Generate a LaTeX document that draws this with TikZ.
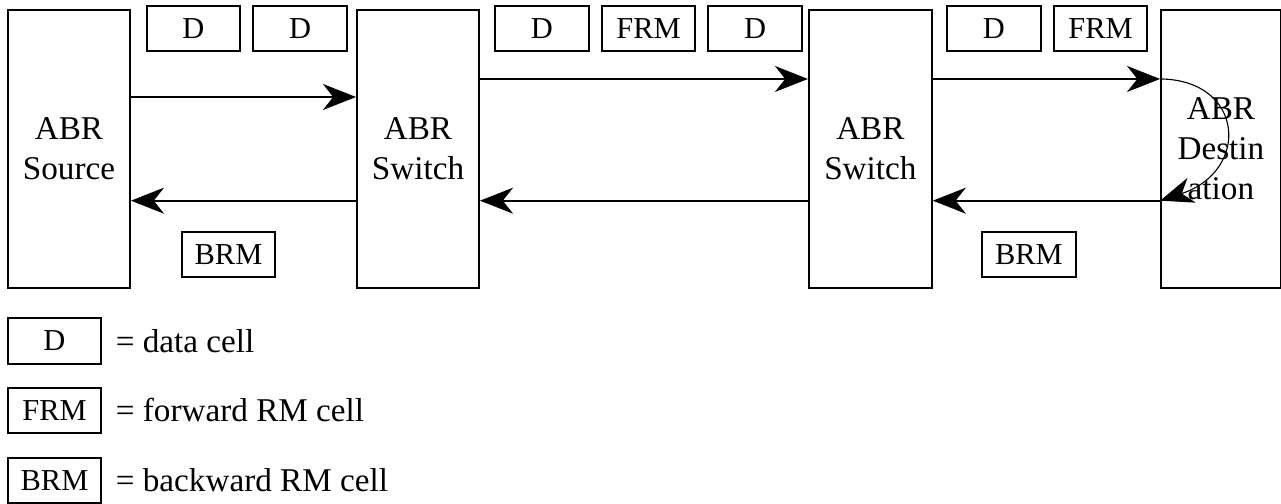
\documentclass[tikz,border=0pt]{standalone}
\usepackage{fontspec}
\setmainfont{Liberation Serif}
\usetikzlibrary{arrows.meta,positioning}
\tikzset{
  unit/.style={draw,line width=0.7pt,minimum width=1.55cm,minimum height=3.53cm,align=center,inner sep=0pt,font=\fontsize{12}{14.4}\selectfont},
  cell/.style={draw,line width=0.7pt,minimum width=1.19cm,minimum height=0.58cm,inner sep=0pt,font=\fontsize{11}{13}\selectfont},
  key/.style={inner sep=0pt,font=\fontsize{12}{14.4}\selectfont},
  flow/.style={line width=0.7pt,-{Stealth[length=4.2mm,width=3.3mm,inset=1.3mm]}},
}
\begin{document}
\begin{tikzpicture}
  \useasboundingbox (0,0) rectangle (16.27,-6.39);
  % stations
  \node[unit] (src) at (0.876,-1.892) {ABR\\Source};
  \node[unit] (sw1) at (5.309,-1.892) {ABR\\Switch};
  \node[unit,minimum width=1.56cm] (sw2) at (11.055,-1.892) {ABR\\Switch};
  \node[unit,minimum width=1.52cm] (dst) at (15.507,-1.892) {ABR\\Destin\\ation};
  % link levels
  \coordinate (hi1) at (0,-1.232);
  \coordinate (hi) at (0,-1.003);
  \coordinate (lo) at (0,-2.549);
  \draw[flow] (src.east |- hi1) -- (sw1.west |- hi1);
  \draw[flow] (sw1.east |- hi) -- (sw2.west |- hi);
  \draw[flow] (sw2.east |- hi) -- (dst.west |- hi);
  \draw[flow] (sw1.west |- lo) -- (src.east |- lo);
  \draw[flow] (sw2.west |- lo) -- (sw1.east |- lo);
  \draw[flow] (dst.west |- lo) -- (sw2.east |- lo);
  % turnaround at the destination
  \draw[flow,line width=0.4pt] (dst.west |- hi) .. controls +(1.07,-0.01) and +(1.15,0.38) .. (dst.west |- lo);
  % cells on the links
  \node[cell] (d1) at (2.457,-0.362) {D};
  \node[cell,right=0.14cm of d1] (d2) {D};
  \node[cell] (d3) at (6.883,-0.362) {D};
  \node[cell,right=0.14cm of d3] (f1) {FRM};
  \node[cell,right=0.14cm of f1] (d4) {D};
  \node[cell] (d5) at (12.624,-0.362) {D};
  \node[cell,right=0.14cm of d5] (f2) {FRM};
  \node[cell] (b1) at (2.902,-3.232) {BRM};
  \node[cell] (b2) at (13.068,-3.232) {BRM};
  % legend
  \node[cell,minimum width=1.18cm] (kd) at (0.692,-4.331) {D};
  \node[cell,minimum width=1.18cm] (kf) at (0.692,-5.213) {FRM};
  \node[cell,minimum width=1.18cm] (kb) at (0.692,-6.102) {BRM};
  \node[key,right=0.17cm of kd] (kdt) {= data cell};
  \node[key,right=0.17cm of kf] (kft) {= forward RM cell};
  \node[key,right=0.17cm of kb] (kbt) {= backward RM cell};
\end{tikzpicture}
\end{document}
